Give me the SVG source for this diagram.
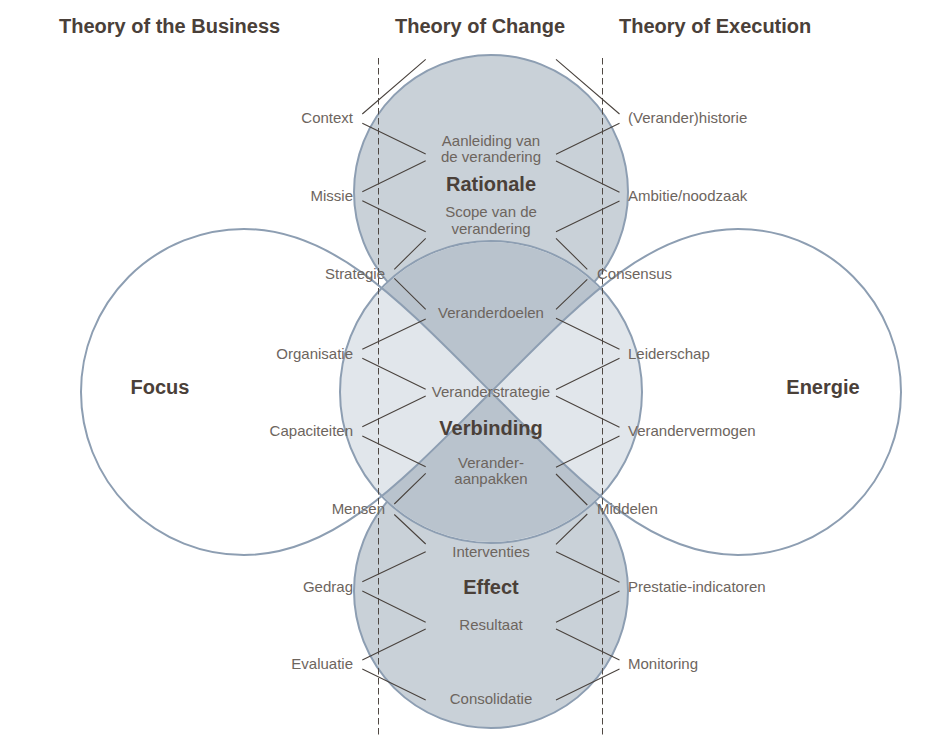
<svg xmlns="http://www.w3.org/2000/svg" width="936" height="747" viewBox="0 0 936 747">
<style>
.bg{fill:#ffffff}
.outer{fill:#c9d1d8;stroke:#8d9eb2;stroke-width:2}
.mid{fill:#e1e6eb;stroke:#8d9eb2;stroke-width:2}
.wedge{fill:#b9c3cd}
.tear{fill:none;stroke:#8d9eb2;stroke-width:2}
.dash{stroke:#4f4843;stroke-width:1;stroke-dasharray:6.5 3.5;fill:none}
.con{stroke:#4a433e;stroke-width:1.1;fill:none}
.t{font-family:"Liberation Sans",Arial,sans-serif;font-size:15px;fill:#6d655e}
.b{font-family:"Liberation Sans",Arial,sans-serif;font-size:20px;font-weight:bold;fill:#4a4039}
.c{text-anchor:middle}
.e{text-anchor:end}
</style>
<defs>
<clipPath id="wedgeClip">
<path d="M 491,392 C 401,302 334,229 244,229 L 244,0 L 738,0 L 738,229 C 648,229 581,302 491,392 Z"/>
<path d="M 491,392 C 401,482 334,555 244,555 L 244,747 L 738,747 L 738,555 C 648,555 581,482 491,392 Z"/>
</clipPath>
</defs>
<rect class="bg" x="0" y="0" width="936" height="747"/>

<g id="rationale-circle"><circle class="outer" cx="491" cy="192" r="137"/></g>
<g id="effect-circle"><circle class="outer" cx="491" cy="591" r="137"/></g>
<g id="verbinding-circle">
<circle class="mid" cx="491" cy="392" r="151"/>
<circle class="wedge" cx="491" cy="392" r="150" clip-path="url(#wedgeClip)"/>
</g>
<g id="focus-shape"><path class="tear" d="M 491,392 C 401,302 334,229 244,229 A 163 163 0 0 0 244,555 C 334,555 401,482 491,392 Z"/></g>
<g id="energie-shape"><path class="tear" d="M 491,392 C 581,302 648,229 738,229 A 163 163 0 0 1 738,555 C 648,555 581,482 491,392 Z"/></g>

<g id="dividers">
<line class="dash" x1="378.5" y1="58" x2="378.5" y2="736"/>
<line class="dash" x1="602.5" y1="58" x2="602.5" y2="736"/>
</g>

<g id="connectors">
<path class="con" d="M362.3,114 L425.7,59.3 M362.3,123.3 L425.7,154 M425.7,160.7 L362.3,191.7 M362.3,200.7 L425.7,231.7 M425.7,238.3 L394.3,269.3 M394.3,278.3 L425.7,309.3 M425.7,319 L362.3,349.3 M362.3,358.3 L425.7,389.3 M425.7,396 L362.3,426.7 M362.3,436 L425.7,466.7 M425.7,473.3 L394.3,504 M394.3,514.5 L425.7,544 M425.7,551.7 L362.3,581.7 M362.3,591 L425.7,622.3 M425.7,629 L362.3,660 M362.3,669 L425.7,700"/>
<path class="con" d="M556,59.3 L619.5,114 M619.5,123.3 L556,154.3 M556,161 L619.5,192.3 M619.5,201 L556,231.7 M556,238.3 L587.3,269.3 M587.3,279.3 L556,309.3 M556,318.3 L619.5,349.3 M619.5,358.3 L556,389.5 M556,396 L619.5,427.3 M619.5,436 L556,467.3 M556,474 L587.3,505 M587.3,514 L556,544.3 M556,551.7 L619.5,582.3 M619.5,591 L556,622.3 M556,629 L619.5,660 M619.5,669 L556,700"/>
</g>

<g id="titles">
<text class="b" x="59" y="33">Theory of the Business</text>
<text class="b" x="395" y="33">Theory of Change</text>
<text class="b" x="619" y="33">Theory of Execution</text>
</g>

<g id="left-labels">
<text class="t e" x="353" y="123">Context</text>
<text class="t e" x="353" y="201">Missie</text>
<text class="t e" x="385" y="279">Strategie</text>
<text class="t e" x="353" y="359">Organisatie</text>
<text class="t e" x="353" y="436">Capaciteiten</text>
<text class="t e" x="385" y="514">Mensen</text>
<text class="t e" x="353" y="592">Gedrag</text>
<text class="t e" x="353" y="669">Evaluatie</text>
</g>

<g id="right-labels">
<text class="t" x="628" y="123">(Verander)historie</text>
<text class="t" x="628" y="201">Ambitie/noodzaak</text>
<text class="t" x="597" y="279">Consensus</text>
<text class="t" x="628" y="359">Leiderschap</text>
<text class="t" x="628" y="436">Verandervermogen</text>
<text class="t" x="597" y="514">Middelen</text>
<text class="t" x="628" y="592">Prestatie-indicatoren</text>
<text class="t" x="628" y="669">Monitoring</text>
</g>

<g id="center-labels">
<text class="t c" x="491" y="146">Aanleiding van</text>
<text class="t c" x="491" y="162">de verandering</text>
<text class="t c" x="491" y="217">Scope van de</text>
<text class="t c" x="491" y="234">verandering</text>
<text class="t c" x="491" y="318">Veranderdoelen</text>
<text class="t c" x="491" y="397">Veranderstrategie</text>
<text class="t c" x="491" y="468">Verander-</text>
<text class="t c" x="491" y="484">aanpakken</text>
<text class="t c" x="491" y="557">Interventies</text>
<text class="t c" x="491" y="630">Resultaat</text>
<text class="t c" x="491" y="704">Consolidatie</text>
</g>

<g id="rationale"><text class="b c" x="491" y="191">Rationale</text></g>
<g id="verbinding"><text class="b c" x="491" y="435">Verbinding</text></g>
<g id="effect"><text class="b c" x="491" y="594">Effect</text></g>
<g id="focus"><text class="b c" x="160" y="394">Focus</text></g>
<g id="energie"><text class="b c" x="823" y="394">Energie</text></g>
</svg>
